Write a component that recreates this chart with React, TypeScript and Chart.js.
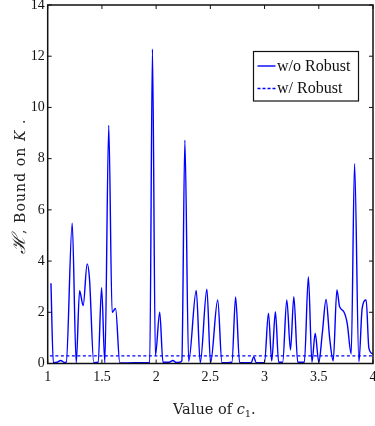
import React, { useEffect, useRef } from "react";
import { Chart, registerables } from "chart.js";

Chart.register(...registerables);

// c1 values (x) and bound values for the curve without robustness
const xValues = [
  1.03, 1.052, 1.088, 1.12, 1.156, 1.171, 1.226, 1.263, 1.294, 1.327, 1.364, 1.385,
  1.425, 1.465, 1.497, 1.527, 1.563, 1.594, 1.626, 1.665, 1.8, 1.941, 1.966, 1.993,
  2.033, 2.063, 2.12, 2.155, 2.185, 2.216, 2.237, 2.265, 2.3, 2.37, 2.407, 2.468,
  2.502, 2.568, 2.607, 2.699, 2.733, 2.77, 2.877, 2.9, 2.922, 2.999, 3.036, 3.066,
  3.1, 3.13, 3.167, 3.205, 3.239, 3.27, 3.306, 3.367, 3.404, 3.437, 3.467, 3.5,
  3.533, 3.567, 3.6, 3.633, 3.667, 3.692, 3.731, 3.762, 3.799, 3.83, 3.87, 3.9,
  3.937, 3.962, 4.0,
];
const withoutRobust = [
  3.13, 0.03, 0.05, 0.12, 0.04, 0.05, 5.48, 0.02, 2.84, 2.26, 3.89, 3.33,
  0.03, 0.05, 2.96, 0.03, 9.3, 2.0, 2.15, 0.02, 0.03, 0.03, 12.28, 0.3,
  2.0, 0.05, 0.05, 0.12, 0.04, 0.05, 0.1, 8.72, 0.08, 2.85, 0.03, 2.9,
  0.03, 2.48, 0.03, 0.05, 2.6, 0.03, 0.03, 0.27, 0.03, 0.03, 1.96, 0.1,
  2.02, 0.05, 0.05, 2.48, 0.53, 2.61, 0.05, 0.05, 3.39, 0.05, 1.18, 0.05,
  1.2, 2.5, 1.0, 0.1, 2.87, 2.22, 2.02, 1.57, 0.37, 7.8, 0.07, 2.15,
  2.48, 0.6, 0.37,
];

// the robust bound is a flat level
const robustX = [1.02, 4.0];
const withRobust = [0.3, 0.3];

const xTicks = [1, 1.5, 2, 2.5, 3, 3.5, 4];
const yTicks = [0, 2, 4, 6, 8, 10, 12, 14];
const seriesLabels = ["w/o Robust", "w/ Robust"];

const BLUE = "#0000ff";

type Seg = { t: string; font: string; dy?: number };

function drawRich(ctx: CanvasRenderingContext2D, segs: Seg[], cx: number, cy: number, spacing = 0) {
  (ctx as any).letterSpacing = spacing + "px";
  let total = 0;
  const widths = segs.map((s) => {
    ctx.font = s.font;
    const w = ctx.measureText(s.t).width;
    total += w;
    return w;
  });
  let x = cx - total / 2;
  ctx.textBaseline = "alphabetic";
  ctx.textAlign = "left";
  segs.forEach((s, i) => {
    ctx.font = s.font;
    ctx.fillText(s.t, x, cy + (s.dy || 0));
    x += widths[i];
  });
  (ctx as any).letterSpacing = "0px";
}

const decorPlugin = {
  id: "decor",
  afterDraw(chart: any) {
    const { ctx, chartArea: a, scales } = chart;
    const xs = scales.x;
    const ys = scales.y;
    ctx.save();
    // frame
    ctx.strokeStyle = "#111";
    ctx.lineWidth = 1.5;
    ctx.strokeRect(a.left, a.top, a.right - a.left, a.bottom - a.top);
    // inward ticks
    ctx.lineWidth = 1;
    const tl = 4;
    ctx.beginPath();
    xTicks.forEach((v) => {
      const px = xs.getPixelForValue(v);
      ctx.moveTo(px, a.bottom);
      ctx.lineTo(px, a.bottom - tl);
      ctx.moveTo(px, a.top);
      ctx.lineTo(px, a.top + tl);
    });
    yTicks.forEach((v) => {
      const py = ys.getPixelForValue(v);
      ctx.moveTo(a.left, py);
      ctx.lineTo(a.left + tl, py);
      ctx.moveTo(a.right, py);
      ctx.lineTo(a.right - tl, py);
    });
    ctx.stroke();

    // legend
    const lx = 253.5, ly = 51.5, lw = 105, lh = 49.5;
    ctx.fillStyle = "#fff";
    ctx.fillRect(lx, ly, lw, lh);
    ctx.strokeStyle = "#111";
    ctx.lineWidth = 1.2;
    ctx.strokeRect(lx, ly, lw, lh);
    const rows = [ly + 14.5, ly + 37];
    ctx.strokeStyle = BLUE;
    ctx.lineWidth = 1.4;
    ctx.beginPath();
    ctx.moveTo(lx + 4, rows[0]);
    ctx.lineTo(lx + 22, rows[0]);
    ctx.stroke();
    ctx.setLineDash([3, 2]);
    ctx.beginPath();
    ctx.moveTo(lx + 4, rows[1]);
    ctx.lineTo(lx + 22, rows[1]);
    ctx.stroke();
    ctx.setLineDash([]);
    ctx.fillStyle = "#111";
    ctx.font = "16px 'Liberation Serif'";
    ctx.textBaseline = "middle";
    ctx.textAlign = "left";
    ctx.fillText(seriesLabels[0], lx + 23.5, rows[0] + 0.5);
    ctx.fillText(seriesLabels[1], lx + 23.5, rows[1] + 0.5);

    // axis titles
    ctx.fillStyle = "#222";
    const midX = (a.left + a.right) / 2 + 4;
    drawRich(
      ctx,
      [
        { t: "Value of ", font: "14.5px 'DejaVu Serif'" },
        { t: "c", font: "italic 14.5px 'DejaVu Serif'" },
        { t: "1", font: "10px 'DejaVu Serif'", dy: 3 },
        { t: ".", font: "14.5px 'DejaVu Serif'" },
      ],
      midX,
      414
    );
    ctx.save();
    ctx.translate(25, (a.top + a.bottom) / 2 + 2);
    ctx.rotate(-Math.PI / 2);
    drawRich(
      ctx,
      [
        { t: "ℋ", font: "italic 18px 'DejaVu Serif'" },
        { t: ", Bound on ", font: "14px 'DejaVu Serif'" },
        { t: "K", font: "italic 14px 'DejaVu Serif'" },
        { t: " .", font: "14px 'DejaVu Serif'" },
      ],
      0,
      0,
      1.1
    );
    ctx.restore();
    ctx.restore();
  },
};

export default function App() {
  const ref = useRef<HTMLCanvasElement | null>(null);
  useEffect(() => {
    if (!ref.current) return;
    const chart = new Chart(ref.current, {
      type: "line",
      data: {
        datasets: [
          {
            label: seriesLabels[0],
            data: xValues.map((x, i) => ({ x, y: withoutRobust[i] })),
            borderColor: BLUE,
            borderWidth: 1.4,
            pointRadius: 0,
            cubicInterpolationMode: "monotone",
            fill: false,
          },
          {
            label: seriesLabels[1],
            data: robustX.map((x, i) => ({ x, y: withRobust[i] })),
            borderColor: BLUE,
            borderWidth: 1.3,
            borderDash: [3, 2.5],
            pointRadius: 0,
            fill: false,
          },
        ],
      },
      options: {
        animation: false,
        responsive: false,
        maintainAspectRatio: false,
        layout: { padding: { left: 0, right: 2, top: 5, bottom: 0 } },
        plugins: { legend: { display: false }, tooltip: { enabled: false } },
        scales: {
          x: {
            type: "linear",
            min: 1,
            max: 4,
            afterBuildTicks: (s: any) => {
              s.ticks = xTicks.map((v) => ({ value: v }));
            },
            afterFit: (s: any) => {
              s.height = 62.5;
              s.paddingLeft = 0;
              s.paddingRight = 0;
            },
            grid: { display: false, drawTicks: false },
            border: { display: false },
            ticks: {
              autoSkip: false,
              maxRotation: 0,
              padding: 5,
              color: "#111",
              font: { family: "'Liberation Serif'", size: 14 },
              callback: (v: any) => String(v),
            },
          },
          y: {
            min: 0,
            max: 14,
            afterBuildTicks: (s: any) => {
              s.ticks = yTicks.map((v) => ({ value: v }));
            },
            afterFit: (s: any) => {
              s.width = 47.7;
              s.paddingTop = 0;
              s.paddingBottom = 0;
            },
            grid: { display: false, drawTicks: false },
            border: { display: false },
            ticks: {
              autoSkip: false,
              padding: 3,
              color: "#111",
              font: { family: "'Liberation Serif'", size: 14 },
              callback: (v: any) => String(v),
            },
          },
        },
      },
      plugins: [decorPlugin],
    } as any);
    return () => chart.destroy();
  }, []);
  return (
    <div style={{ position: "fixed", left: 0, top: 0, width: 375, height: 426, background: "#fff" }}>
      <canvas ref={ref} width={375} height={426} style={{ display: "block" }} />
    </div>
  );
}
